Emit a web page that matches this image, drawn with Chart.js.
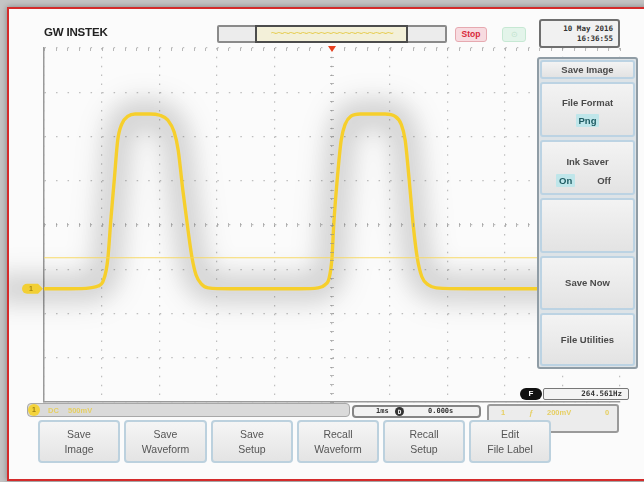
<!DOCTYPE html>
<html>
<head>
<meta charset="utf-8">
<script src="https://cdn.jsdelivr.net/npm/chart.js@4/dist/chart.umd.min.js"></script>
<style>
  html,body{margin:0;padding:0;}
  body{width:644px;height:482px;position:relative;overflow:hidden;background:#c4c4c4;font-family:"Liberation Sans",Arial,sans-serif;}
  #frame{position:absolute;left:7px;top:7px;width:645px;height:470px;background:#fbfbfb;border-top:2px solid #d42b2b;border-left:2px solid #d42b2b;border-bottom:2px solid #d42b2b;box-shadow:0 0 6px rgba(0,0,0,0.35);}
  #c{position:absolute;left:0;top:0;}
  .ab{position:absolute;box-sizing:border-box;}
  .logo{left:44px;top:26px;font-weight:900;font-size:11px;letter-spacing:-0.2px;color:#222;transform:scaleX(1.05);transform-origin:left;}
  .mem{left:217px;top:25px;width:230px;height:18px;border:2px solid #8a8a8a;border-radius:2px;background:#ececec;}
  .memin{left:255px;top:25px;width:153px;height:18px;border:2px solid #4c4c4c;background:#f3f0d9;overflow:hidden;color:#e6cf5a;font-size:13px;line-height:12px;letter-spacing:-1.5px;text-align:center;}
  .stop{left:455px;top:27px;width:32px;height:15px;border:1px solid #e6a9b0;border-radius:3px;background:#f7dbe0;color:#d8283a;font-size:8.5px;font-weight:bold;text-align:center;line-height:13px;}
  .run{left:502px;top:27px;width:24px;height:15px;border:1px solid #c6e8d3;border-radius:3px;background:#e3f4ea;color:#bfe2cc;font-size:8px;text-align:center;line-height:13px;}
  .date{left:539px;top:19px;width:81px;height:29px;border:2px solid #6f6f6f;border-radius:3px;background:#f1f1f1;font-family:"DejaVu Sans Mono",monospace;font-size:7.5px;font-weight:bold;color:#333;text-align:right;padding:3px 5px 0 0;line-height:10px;}
  .panel{left:537px;top:57px;width:101px;height:312px;border:2px solid #8f9ca5;border-radius:3px;background:#dde3e7;}
  .pb{left:540px;width:95px;border:2px solid #bcd3e3;border-radius:3px;background:linear-gradient(#f3f3f3,#e3e3e3);color:#4a4a4a;font-size:9.5px;font-weight:bold;text-align:center;}
  .hl{display:inline-block;background:#bfe6ea;color:#1e5b62;padding:0 3px;border-radius:1px;}
  .fpill{left:520px;top:388px;width:22px;height:12px;background:#111;border-radius:6px;color:#fff;font-size:8px;font-weight:bold;text-align:center;line-height:12px;}
  .fbox{left:543px;top:388px;width:86px;height:12px;border:1px solid #777;border-radius:2px;background:#f3f3f3;font-family:"DejaVu Sans Mono",monospace;font-size:7.5px;font-weight:bold;color:#333;text-align:right;padding-right:6px;line-height:10px;}
  .sbar{left:27px;top:403px;width:323px;height:14px;border:1px solid #a8a8a8;border-radius:4px;background:#dadada;}
  .ch1{left:28px;top:404px;width:12px;height:12px;border-radius:6px;background:#f3d33c;color:#9a7d10;font-size:7px;font-weight:bold;text-align:center;line-height:12px;}
  .ytxt{color:#e6cf62;font-size:7.5px;font-weight:bold;}
  .mid{left:352px;top:405px;width:129px;height:13px;border:2px solid #858585;border-radius:4px;background:#f2f2f2;font-family:"DejaVu Sans Mono",monospace;font-size:7px;font-weight:bold;color:#333;line-height:9px;}
  .rbox{left:487px;top:404px;width:132px;height:29px;border:2px solid #9a9a9a;border-radius:3px;background:#ececec;}
  .btn{top:420px;height:43px;border:2px solid #bcd1de;border-radius:4px;background:linear-gradient(#f5f5f5,#e4e4e4);color:#555;font-size:10.5px;text-align:center;line-height:15px;padding-top:5px;}
</style>
</head>
<body>
<div id="frame"></div>
<canvas id="c" width="644" height="482"></canvas>

<div class="ab logo">GW INSTEK</div>
<div class="ab mem"></div>
<div class="ab memin">~~~~~~~~~~~~~~~~~~~~</div>
<div class="ab stop">Stop</div>
<div class="ab run">⊙</div>
<div class="ab date">10 May 2016<br>16:36:55</div>

<div class="ab panel"></div>
<div class="ab pb" style="top:60px;height:19px;line-height:15px;">Save Image</div>
<div class="ab pb" style="top:82px;height:55px;padding-top:12px;line-height:13px;">File Format<br><span class="hl" style="margin-top:5px;">Png</span></div>
<div class="ab pb" style="top:140px;height:55px;padding-top:13px;line-height:13px;">Ink Saver<br><div style="margin-top:6px;text-align:left;padding-left:14px;"><span class="hl">On</span><span style="margin-left:22px;">Off</span></div></div>
<div class="ab pb" style="top:198px;height:55px;"></div>
<div class="ab pb" style="top:256px;height:54px;line-height:50px;">Save Now</div>
<div class="ab pb" style="top:313px;height:53px;line-height:49px;">File Utilities</div>

<div class="ab fpill">F</div>
<div class="ab fbox">264.561Hz</div>

<div class="ab sbar"></div>
<div class="ab ch1">1</div>
<div class="ab ytxt" style="left:48px;top:406px;">DC</div>
<div class="ab ytxt" style="left:68px;top:406px;">500mV</div>
<div class="ab mid"><span style="position:absolute;left:22px;top:0;">1ms</span><span style="position:absolute;left:41px;top:0;width:9px;height:9px;border-radius:5px;background:#333;color:#fff;font-size:6px;text-align:center;line-height:9px;">D</span><span style="position:absolute;left:74px;top:0;">0.000s</span></div>
<div class="ab rbox"><span class="ab ytxt" style="left:12px;top:2px;">1</span><span class="ab ytxt" style="left:40px;top:2px;">ƒ</span><span class="ab ytxt" style="left:58px;top:2px;">200mV</span><span class="ab ytxt" style="left:116px;top:2px;">0</span></div>

<div class="ab btn" style="left:38px;width:82px;">Save<br>Image</div>
<div class="ab btn" style="left:124px;width:83px;">Save<br>Waveform</div>
<div class="ab btn" style="left:211px;width:82px;">Save<br>Setup</div>
<div class="ab btn" style="left:297px;width:82px;">Recall<br>Waveform</div>
<div class="ab btn" style="left:383px;width:82px;">Recall<br>Setup</div>
<div class="ab btn" style="left:469px;width:82px;">Edit<br>File Label</div>

<script>
// Time axis in ms (1 ms/div, trigger at 0), voltage in divisions
const timeMs = [-5.0,-4.55,-4.2,-4.06,-3.98,-3.92,-3.89,-3.84,-3.78,-3.72,-3.65,-3.54,-3.42,-3.16,-2.99,-2.85,-2.74,-2.67,-2.59,-2.50,-2.43,-2.36,-2.27,-2.15,-1.77,-0.56,-0.24,-0.12,-0.05,0.00,0.03,0.09,0.16,0.23,0.33,0.49,0.92,1.09,1.20,1.27,1.34,1.41,1.48,1.56,1.67,1.81,2.40,3.56,5.0];
const traceDiv = [-1.44,-1.44,-1.42,-1.38,-1.29,-1.02,-0.74,0.11,1.02,1.92,2.28,2.46,2.51,2.51,2.48,2.37,2.10,1.69,0.79,-0.11,-0.74,-1.13,-1.33,-1.42,-1.44,-1.44,-1.42,-1.35,-1.20,-0.74,0.00,1.02,1.92,2.28,2.46,2.51,2.51,2.46,2.28,1.92,1.02,0.00,-0.74,-1.17,-1.35,-1.42,-1.44,-1.44,-1.44];
const triggerLevelDiv = -0.74;
const triggerTimeMs = 0;
const groundDiv = -1.44;
const timeRange = [-5, 5];
const voltRange = [-4, 4];

const tracePoints = timeMs.map((t, i) => ({x: t, y: traceDiv[i]}));
const triggerLine = timeRange.map(t => ({x: t, y: triggerLevelDiv}));

const glow = {
  id: 'glow',
  beforeDatasetDraw(chart, args) {
    if (args.index !== 1) return;
    const ctx = chart.ctx;
    const pts = args.meta.data;
    // soft grey haze following the trace's scaled pixel positions
    ctx.save();
    ctx.beginPath();
    ctx.rect(9, chart.chartArea.top, chart.chartArea.right - 9, chart.chartArea.height);
    ctx.clip();
    ctx.filter = 'blur(13px)';
    ctx.lineJoin = 'round';
    ctx.lineCap = 'round';
    [[34, 'rgba(0,0,0,0.10)'], [16, 'rgba(0,0,0,0.10)']].forEach(([w, c]) => {
      ctx.lineWidth = w;
      ctx.strokeStyle = c;
      ctx.beginPath();
      pts.forEach((p, i) => i ? ctx.lineTo(p.x, p.y) : ctx.moveTo(p.x - 40, p.y));
      ctx.stroke();
    });
    ctx.restore();
  }
};

const decor = {
  id: 'decor',
  afterDraw(chart) {
    const ctx = chart.ctx, xs = chart.scales.x, ys = chart.scales.y;
    const a = chart.chartArea;
    ctx.save();
    ctx.strokeStyle = 'rgba(140,140,140,0.6)';
    ctx.lineWidth = 1;
    const cx = xs.getPixelForValue(0), cy = ys.getPixelForValue(0);
    ctx.beginPath();
    for (let v = timeRange[0]; v <= timeRange[1] + 1e-9; v += 0.2) {
      const px = Math.round(xs.getPixelForValue(v)) + 0.5;
      ctx.moveTo(px, cy - 2); ctx.lineTo(px, cy + 2);
      ctx.moveTo(px, a.top); ctx.lineTo(px, a.top + 3);
    }
    for (let v = voltRange[0]; v <= voltRange[1] + 1e-9; v += 0.2) {
      const py = Math.round(ys.getPixelForValue(v)) + 0.5;
      ctx.moveTo(cx - 2, py); ctx.lineTo(cx + 2, py);
    }
    ctx.stroke();
    // trigger position marker
    const tx = xs.getPixelForValue(triggerTimeMs);
    ctx.fillStyle = '#e8401f';
    ctx.beginPath();
    ctx.moveTo(tx - 4, a.top - 2); ctx.lineTo(tx + 4, a.top - 2); ctx.lineTo(tx, a.top + 4);
    ctx.closePath(); ctx.fill();
    // channel 1 ground marker
    const gy = ys.getPixelForValue(groundDiv);
    ctx.fillStyle = '#f2cf35';
    ctx.beginPath();
    ctx.moveTo(a.left - 17, gy - 5); ctx.lineTo(a.left - 6, gy - 5); ctx.lineTo(a.left - 1, gy);
    ctx.lineTo(a.left - 6, gy + 5); ctx.lineTo(a.left - 17, gy + 5);
    ctx.arc(a.left - 17, gy, 5, Math.PI / 2, Math.PI * 1.5);
    ctx.fill();
    ctx.fillStyle = '#a8870e';
    ctx.font = 'bold 7px "Liberation Sans", Arial';
    ctx.textAlign = 'center'; ctx.textBaseline = 'middle';
    ctx.fillText('1', a.left - 13, gy + 0.5);
    ctx.restore();
  }
};

new Chart(document.getElementById('c'), {
  type: 'scatter',
  data: {
    datasets: [
      {data: triggerLine, showLine: true, borderColor: 'rgba(246,214,88,0.9)', borderWidth: 1.2, pointRadius: 0},
      {data: tracePoints, showLine: true, borderColor: '#f6cf2c', borderWidth: 3.4, pointRadius: 0, cubicInterpolationMode: 'monotone'}
    ]
  },
  options: {
    responsive: false,
    animation: false,
    events: [],
    layout: {padding: {left: 44, top: 48, right: 24, bottom: 80}},
    plugins: {legend: {display: false}, tooltip: {enabled: false}},
    scales: {
      x: {
        type: 'linear', min: timeRange[0], max: timeRange[1],
        ticks: {display: false, stepSize: 1},
        grid: {color: 'rgba(140,140,140,0.55)', lineWidth: 1.2, drawTicks: false},
        border: {display: true, color: '#9a9a9a', width: 1.5, dash: [1.5, 7.36]}
      },
      y: {
        type: 'linear', min: voltRange[0], max: voltRange[1],
        ticks: {display: false, stepSize: 1},
        grid: {color: 'rgba(140,140,140,0.55)', lineWidth: 1.2, drawTicks: false},
        border: {display: true, color: '#9a9a9a', width: 1.5, dash: [1.5, 10.02]}
      }
    }
  },
  plugins: [glow, decor]
});
</script>
</body>
</html>
